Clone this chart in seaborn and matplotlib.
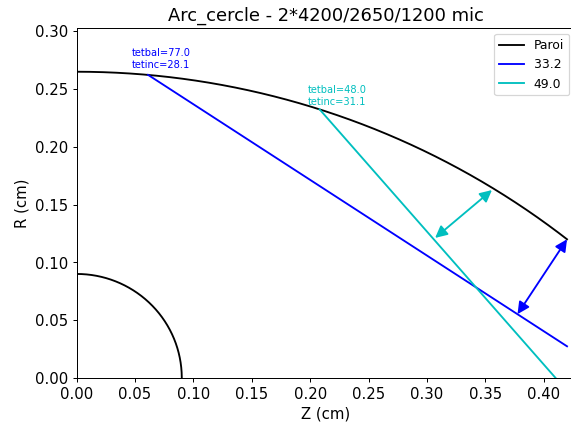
import numpy as np
import pandas as pd
import matplotlib
matplotlib.use("Agg")
import matplotlib.pyplot as plt
import seaborn as sns

# Wall geometry (cm): length 4200 mic, radius 2650 mic at inlet, 1200 mic at outlet
wall_z_end = 0.42
wall_r_start = 0.265
wall_r_end = 0.12
# Inner quarter circle radius (cm)
inner_radius = 0.09

# Rays (start on the wall, end point)
ray_labels = ["33.2", "49.0"]
ray1_z = [0.0611, 0.42]
ray1_r = [0.2623, 0.0274]
ray2_z = [0.208, 0.4102]
ray2_r = [0.2325, 0.0]
ray_tetbal = [77.0, 48.0]
ray_tetinc = [28.1, 31.1]

# Gap markers between ray and wall
gap1_z = [0.3776, 0.42]
gap1_r = [0.0552, 0.12]
gap2_z = [0.307, 0.3557]
gap2_r = [0.1212, 0.1626]

plt.rcParams["font.size"] = 12

# Wall: circular arc with its centre on the R axis
centre_r = (wall_r_end**2 + wall_z_end**2 - wall_r_start**2) / (2 * (wall_r_end - wall_r_start))
wall_radius = wall_r_start - centre_r
theta = np.linspace(0, np.arcsin(wall_z_end / wall_radius), 200)
wall = pd.DataFrame({"Z": wall_radius * np.sin(theta),
                     "R": centre_r + wall_radius * np.cos(theta)})

phi = np.linspace(0, np.pi / 2, 200)
inner = pd.DataFrame({"Z": inner_radius * np.sin(phi),
                      "R": inner_radius * np.cos(phi)})

ray1 = pd.DataFrame({"Z": ray1_z, "R": ray1_r})
ray2 = pd.DataFrame({"Z": ray2_z, "R": ray2_r})

dpi = 89.2
fig = plt.figure(figsize=(571.2 / dpi, 427.2 / dpi), dpi=dpi)
ax = fig.add_axes([0.1343, 0.1148, 0.8727, 0.8196])

sns.lineplot(data=wall, x="Z", y="R", sort=False, estimator=None,
             color="black", lw=1.5, ax=ax, label="Paroi")
sns.lineplot(data=ray1, x="Z", y="R", sort=False, estimator=None,
             color="blue", lw=1.5, ax=ax, label=ray_labels[0])
sns.lineplot(data=ray2, x="Z", y="R", sort=False, estimator=None,
             color="c", lw=1.5, ax=ax, label=ray_labels[1])
sns.lineplot(data=inner, x="Z", y="R", sort=False, estimator=None,
             color="black", lw=1.5, ax=ax)

for gz, gr, col in [(gap1_z, gap1_r, "blue"), (gap2_z, gap2_r, "c")]:
    ax.annotate("", xy=(gz[1], gr[1]), xytext=(gz[0], gr[0]),
                arrowprops=dict(arrowstyle="<|-|>", color=col, lw=1.5,
                                mutation_scale=20, shrinkA=0, shrinkB=0))

ax.text(0.0471, 0.267, f"tetbal={ray_tetbal[0]}\ntetinc={ray_tetinc[0]}",
        color="blue", fontsize=8, ha="left", va="bottom")
ax.text(0.1977, 0.235, f"tetbal={ray_tetbal[1]}\ntetinc={ray_tetinc[1]}",
        color="c", fontsize=8, ha="left", va="bottom")

ax.set_xlim(0, 0.427)
ax.set_ylim(0, 0.303)
ax.set_xticks(np.arange(0, 0.41, 0.05))
ax.set_yticks(np.arange(0, 0.31, 0.05))
ax.set_xlabel("Z (cm)")
ax.set_ylabel("R (cm)")
ax.set_title("Arc_cercle - 2*4200/2650/1200 mic", x=0.5)
ax.legend(loc="upper right", fontsize=10)

fig.savefig("out.png", dpi=dpi)
